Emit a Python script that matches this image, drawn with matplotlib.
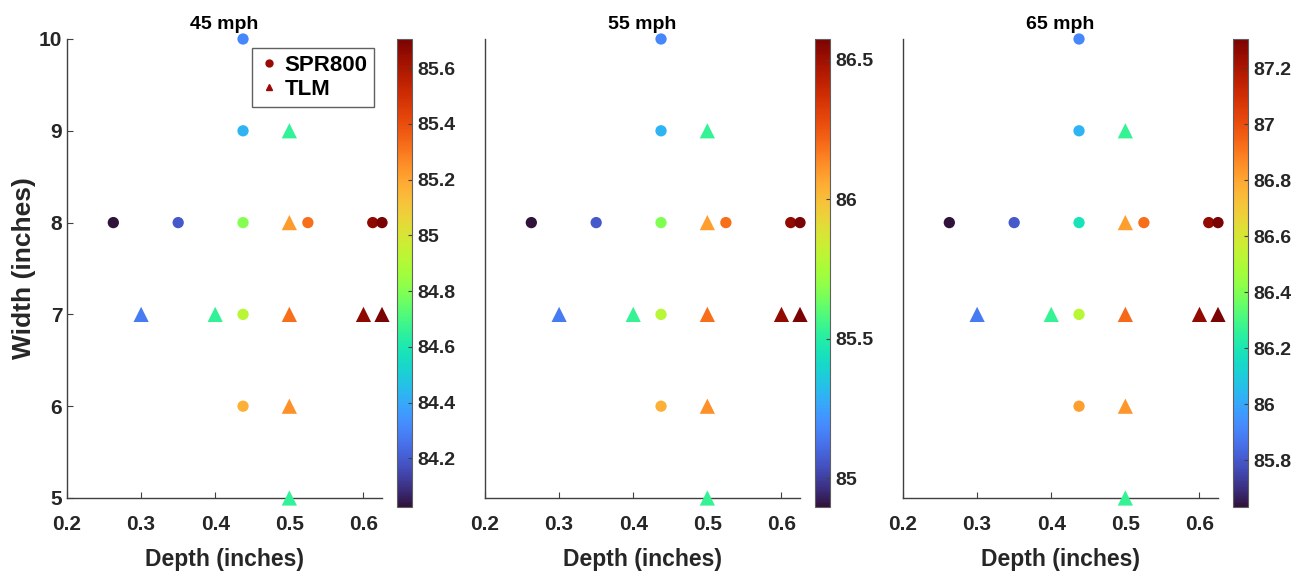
import numpy as np
import matplotlib
matplotlib.use("Agg")
import matplotlib.pyplot as plt
from matplotlib.lines import Line2D
from matplotlib.ticker import FormatStrFormatter

plt.rcParams['font.family'] = ['Liberation Sans', 'DejaVu Sans']
plt.rcParams['font.weight'] = 'bold'

# ---------------- data ----------------
speeds = ["45 mph", "55 mph", "65 mph"]

spr_depth = [0.2625, 0.35, 0.4375, 0.4375, 0.4375, 0.4375, 0.4375, 0.525, 0.6125, 0.625]
spr_width = [8, 8, 10, 9, 8, 7, 6, 8, 8, 8]
tlm_depth = [0.3, 0.4, 0.5, 0.6, 0.625, 0.5, 0.5, 0.5, 0.5]
tlm_width = [7, 7, 7, 7, 7, 9, 8, 6, 5]

spr_45 = [84.025, 84.19, 84.31, 84.43, 84.80, 84.92, 85.17, 85.32, 85.66, 85.705]
tlm_45 = [84.28, 84.66, 85.32, 85.66, 85.70, 84.66, 85.22, 85.25, 84.66]

spr_55 = [84.896, 85.064, 85.181, 85.299, 85.668, 85.786, 86.038, 86.189, 86.525, 86.575]
tlm_55 = [85.148, 85.534, 86.189, 86.525, 86.570, 85.534, 86.088, 86.122, 85.534]

spr_65 = [85.633, 85.80, 85.917, 86.034, 86.184, 86.519, 86.82, 86.92, 87.254, 87.304]
tlm_65 = [85.884, 86.268, 86.936, 87.254, 87.300, 86.268, 86.82, 86.836, 86.268]

spr_vals = [spr_45, spr_55, spr_65]
tlm_vals = [tlm_45, tlm_55, tlm_65]

cbar_ticks = [
    [84.2, 84.4, 84.6, 84.8, 85.0, 85.2, 85.4, 85.6],
    [85.0, 85.5, 86.0, 86.5],
    [85.8, 86.0, 86.2, 86.4, 86.6, 86.8, 87.0, 87.2],
]
x_ticks = [0.2, 0.3, 0.4, 0.5, 0.6]
y_ticks = [5, 6, 7, 8, 9, 10]

# ---------------- layout ----------------
W, H = 1302, 571
fig = plt.figure(figsize=(W / 100, H / 100), dpi=100)

ax_left_px = [67, 485, 903]
cax_left_px = [397, 815, 1233]
ax_w, ax_top, ax_bot = 315, 39, 498
cax_w, cax_top, cax_bot = 15, 39, 507

spine_c = '#404040'
text_c = '#262626'

for i in range(3):
    ax = fig.add_axes([ax_left_px[i] / W, (H - ax_bot) / H, ax_w / W, (ax_bot - ax_top) / H])
    cax = fig.add_axes([cax_left_px[i] / W, (H - cax_bot) / H, cax_w / W, (cax_bot - cax_top) / H])

    allv = np.concatenate([spr_vals[i], tlm_vals[i]])
    vmin, vmax = allv.min(), allv.max()

    sc = ax.scatter(spr_depth, spr_width, c=spr_vals[i], cmap='turbo', vmin=vmin, vmax=vmax,
                    marker='o', s=66, linewidths=0, clip_on=False, zorder=3)
    ax.scatter(tlm_depth, tlm_width, c=tlm_vals[i], cmap='turbo', vmin=vmin, vmax=vmax,
               marker='^', s=120, linewidths=0, clip_on=False, zorder=3)

    ax.set_xlim(0.2, 0.625)
    ax.set_ylim(5, 10)
    ax.set_xticks(x_ticks)
    ax.xaxis.set_major_formatter(FormatStrFormatter('%g'))
    for s in ['top', 'right']:
        ax.spines[s].set_visible(False)
    for s in ['left', 'bottom']:
        ax.spines[s].set_color(spine_c)
        ax.spines[s].set_linewidth(1.0)
    ax.tick_params(direction='in', length=4, width=0.8, color=spine_c,
                   labelcolor=text_c, labelsize=15)
    ax.tick_params(axis='x', pad=12.5)
    ax.tick_params(axis='y', pad=3.5)
    if i == 0:
        ax.set_yticks(y_ticks)
        ax.set_ylabel('Width (inches)', fontsize=19, fontweight='bold', color=text_c, labelpad=2)
    else:
        ax.set_yticks([])
    for lab in ax.get_xticklabels() + ax.get_yticklabels():
        lab.set_fontweight('bold')
    ax.set_xlabel('Depth (inches)', fontsize=16.5, fontweight='bold', color=text_c, labelpad=10)
    ax.set_title(speeds[i], fontsize=14, fontweight='bold', color='black', pad=7)

    cb = fig.colorbar(sc, cax=cax)
    cb.set_ticks(cbar_ticks[i])
    cb.ax.yaxis.set_major_formatter(FormatStrFormatter('%g'))
    cb.outline.set_edgecolor('#606060')
    cb.outline.set_linewidth(0.8)
    cb.ax.tick_params(direction='in', length=3, width=0.8, color=spine_c,
                      labelcolor=text_c, labelsize=14, pad=4)
    for lab in cb.ax.get_yticklabels():
        lab.set_fontweight('bold')

    if i == 0:
        handles = [
            Line2D([], [], marker='o', ls='', color='#990a04', markersize=5),
            Line2D([], [], marker='^', ls='', color='#990a04', markersize=5),
        ]
        leg = ax.legend(handles, ['SPR800', 'TLM'], loc='upper right',
                        bbox_to_anchor=(0.975, 0.980), borderaxespad=0,
                        fontsize=16, frameon=True,
                        fancybox=False, framealpha=1, edgecolor='#606060',
                        handlelength=0.9, handletextpad=0.25, borderpad=0.3,
                        labelspacing=0.15)
        leg.get_frame().set_linewidth(1.0)
        for t in leg.get_texts():
            t.set_fontweight('bold')

fig.savefig('out.png', dpi=100)
